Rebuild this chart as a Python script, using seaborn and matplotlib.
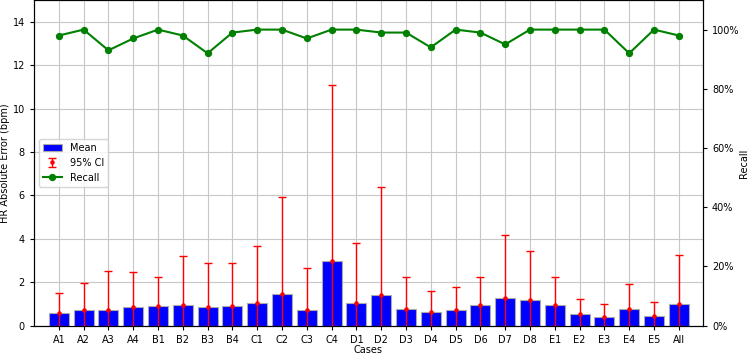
import numpy as np
import pandas as pd
import matplotlib
matplotlib.use("Agg")
from matplotlib import pyplot as plt
from matplotlib.ticker import PercentFormatter
import seaborn as sns

cases = ["A1", "A2", "A3", "A4", "B1", "B2", "B3", "B4", "C1", "C2", "C3", "C4",
         "D1", "D2", "D3", "D4", "D5", "D6", "D7", "D8", "E1", "E2", "E3", "E4",
         "E5", "All"]
mean_err = [0.57, 0.71, 0.71, 0.88, 0.92, 0.97, 0.88, 0.92, 1.06, 1.46, 0.72, 3.0,
            1.06, 1.40, 0.77, 0.62, 0.71, 0.97, 1.28, 1.17, 0.97, 0.52, 0.38, 0.77,
            0.43, 1.02]
ci_upper = [1.51, 1.95, 2.51, 2.45, 2.25, 3.20, 2.89, 2.89, 3.65, 5.92, 2.65, 11.07,
            3.80, 6.38, 2.25, 1.62, 1.77, 2.25, 4.18, 3.45, 2.22, 1.22, 1.02, 1.91,
            1.11, 3.25]
recall = [0.98, 1.00, 0.93, 0.97, 1.00, 0.98, 0.92, 0.99, 1.00, 1.00, 0.97, 1.00,
          1.00, 0.99, 0.99, 0.94, 1.00, 0.99, 0.95, 1.00, 1.00, 1.00, 1.00, 0.92,
          1.00, 0.98]

df = pd.DataFrame({"case": cases, "mean": mean_err, "upper": ci_upper, "recall": recall})

plt.rcParams["font.size"] = 7
fig = plt.figure(figsize=(7.49, 3.54), dpi=100)
ax = fig.add_axes([0.0454, 0.08, 0.893, 0.92])

sns.barplot(data=df, x="case", y="mean", color="blue", saturation=1,
            edgecolor="#aaaaaa", linewidth=0.8, width=0.8, ax=ax, label="Mean", zorder=2)
x = np.arange(len(cases))
lower = df["mean"].values
upper = df["upper"].values - df["mean"].values
ax.errorbar(x, df["mean"], yerr=[lower, upper], fmt=".", color="red", ecolor="red",
            capsize=3.2, elinewidth=1, markersize=4.5, label="95% CI", zorder=3)
ax.set_ylim(0, 15)
ax.set_xlim(-1.0, len(cases) - 0.03)
ax.set_xlabel("Cases", labelpad=0)
ax.set_ylabel("HR Absolute Error (bpm)", labelpad=2)
ax.tick_params(length=3)
ax.grid(True, color="#c8c8c8", linewidth=0.8)
ax.set_axisbelow(True)

ax2 = ax.twinx()
sns.lineplot(x=x, y=df["recall"], color="green", marker="o", markersize=4.5,
             markeredgecolor="green", linewidth=1.5, ax=ax2, label="Recall")
ax2.set_ylim(0, 1.1)
ax2.set_yticks([0, 0.2, 0.4, 0.6, 0.8, 1.0])
ax2.yaxis.set_major_formatter(PercentFormatter(1.0, decimals=0))
ax2.set_ylabel("Recall", labelpad=0)
ax2.tick_params(length=3)
ax2.grid(False)

h1, l1 = ax.get_legend_handles_labels()
h2, l2 = ax2.get_legend_handles_labels()
ax2.legend(h1 + h2, l1 + l2, loc="center left", framealpha=0.8)
if ax.get_legend():
    ax.get_legend().remove()

fig.savefig("out.png", dpi=100)
